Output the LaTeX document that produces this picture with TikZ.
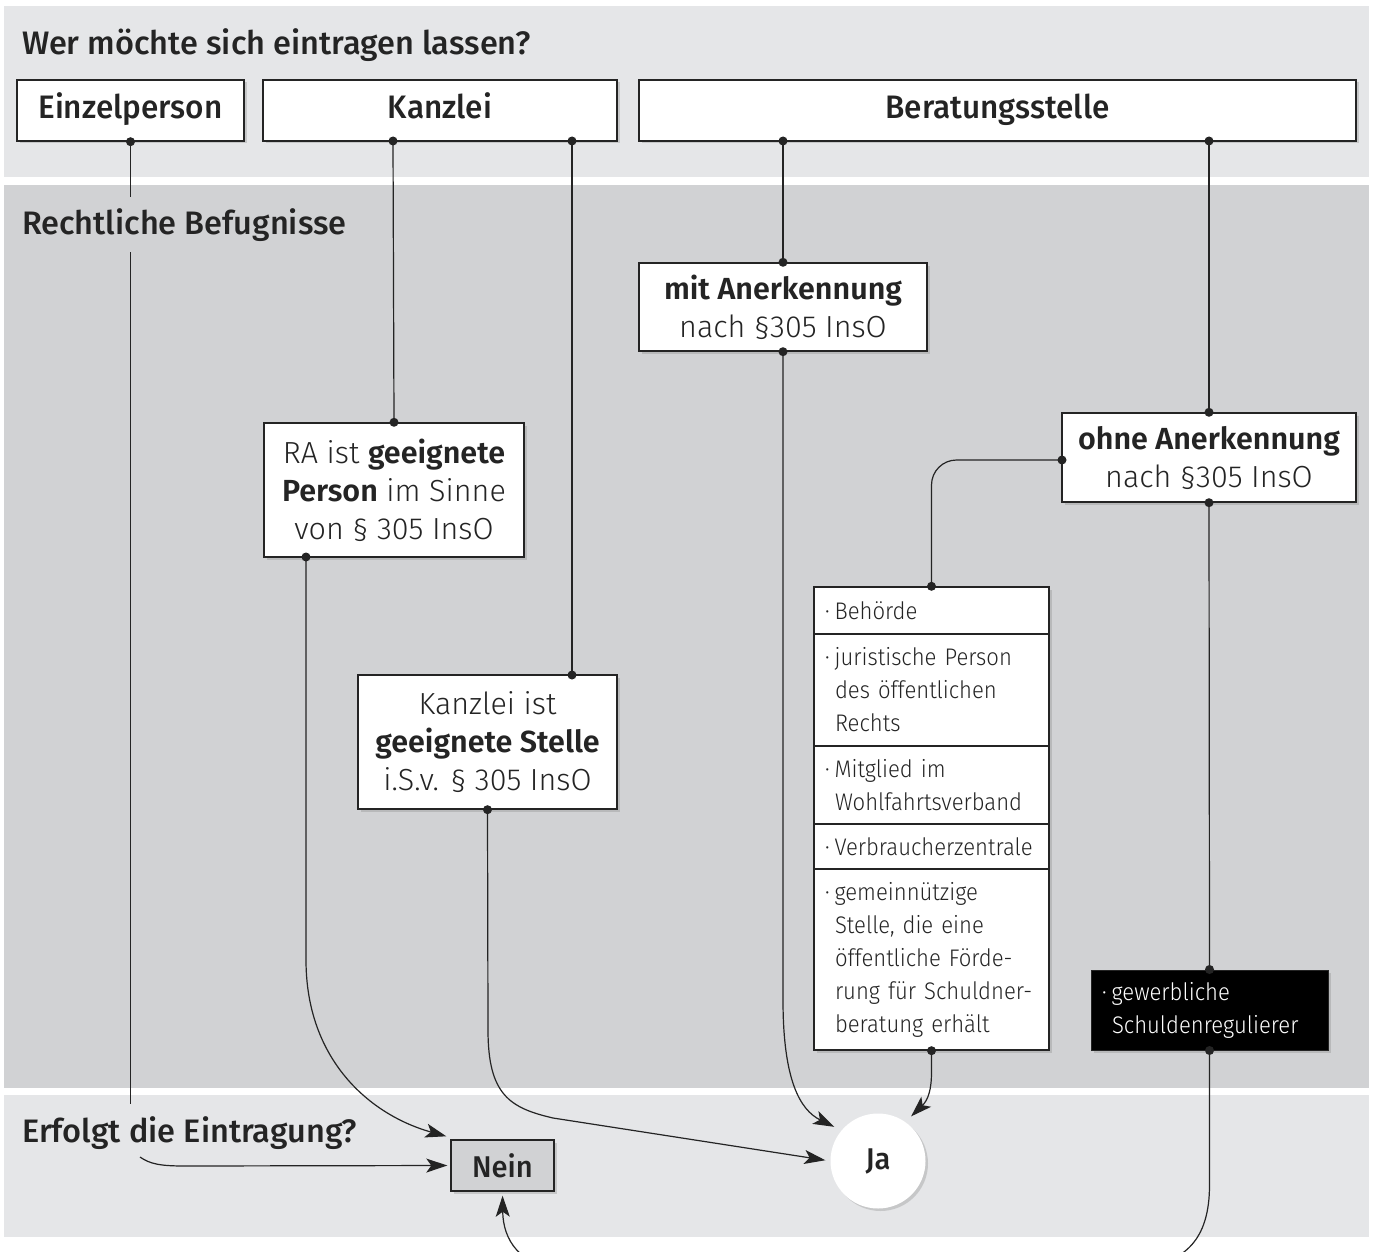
\documentclass[tikz,border=0pt]{standalone}
\usepackage{fontspec}
\setmainfont{Fira Sans}
\newfontfamily\hdfont{Fira Sans Medium}
\newfontfamily\lbfont{Fira Sans Medium}[FakeStretch=0.97]
\newfontfamily\bodyfont{Fira Sans Light}[BoldFont={Fira Sans SemiBold}]
\newfontfamily\lsfont{Fira Sans Light}[FakeStretch=0.92]
\usetikzlibrary{arrows.meta,shadows,calc}
\definecolor{bandlight}{HTML}{E5E6E8}
\definecolor{banddark}{HTML}{D1D2D4}
\definecolor{ink}{HTML}{242424}
\tikzset{
  x=1pt, y=-1pt,
  shad/.style={drop shadow={opacity=0.3, shadow xshift=2.5pt, shadow yshift=-2.5pt}},
  topbox/.style={draw=ink, line width=1.4pt, fill=white, shad, inner sep=0pt,
    text height=23pt, text depth=7pt,
    font=\lbfont\fontsize{32.5}{38}\selectfont, text=ink},
  bodybox/.style={draw=ink, line width=1.4pt, fill=white, shad, inner sep=0pt, align=center,
    font=\bodyfont\fontsize{30.5}{38}\selectfont, text=ink},
  lrow/.style={draw=ink, line width=1.4pt, fill=white, shad, inner xsep=11pt, inner ysep=0pt,
    minimum width=235pt, text width=213pt, align=left,
    font=\lsfont\fontsize{24}{33}\selectfont, text=ink},
  hdtext/.style={font=\hdfont\fontsize{32.5}{38}\selectfont, text=ink, inner sep=0pt},
  conn/.style={draw=ink, line width=1.2pt},
  arr/.style={conn, -{Stealth[length=21pt, width=14pt, inset=5pt]}},
  dotc/.style={fill=ink},
}
\begin{document}
\begin{tikzpicture}
\useasboundingbox (0,0) rectangle (1373,1252);
\clip (0,0) rectangle (1373,1252);
\fill[white] (0,0) rectangle (1373,1252);
% bands
\fill[bandlight] (4,6) rectangle (1369,177);
\fill[banddark] (4,185) rectangle (1369,1088);
\fill[bandlight] (4,1095) rectangle (1369,1237);

% headings
\node[hdtext, anchor=base west] (h1) at (22,55) {Wer möchte sich eintragen lassen?};
\node[hdtext, anchor=base west] (h2) at (22,234) {Rechtliche Befugnisse};
\node[hdtext, anchor=base west] (h3) at (22,1142) {Erfolgt die Eintragung?};

% top row
\node[topbox, minimum width=227pt, minimum height=61pt] (E) at (130.5,110.5) {Einzelperson};
\node[topbox, minimum width=354pt, minimum height=61pt] (K) at (440,110.5) {Kanzlei};
\node[topbox, minimum width=717pt, minimum height=61pt] (B) at (997.5,110.5) {Beratungsstelle};

% middle boxes
\node[bodybox, minimum width=260pt, minimum height=134pt] (RA) at (394,490)
  {RA ist \textbf{geeignete}\\\textbf{Person} im Sinne\\von § 305 InsO};
\node[bodybox, minimum width=259pt, minimum height=134pt] (KI) at (487.5,742)
  {Kanzlei ist\\\textbf{geeignete Stelle}\\i.S.v. § 305 InsO};
\node[bodybox, minimum width=288pt, minimum height=88pt] (MA) at (783,307)
  {\textbf{mit Anerkennung}\\nach §305 InsO};
\node[bodybox, minimum width=294pt, minimum height=89pt] (OA) at (1209,457.5)
  {\textbf{ohne Anerkennung}\\nach §305 InsO};

% list
\node[lrow, minimum height=47pt] (L1) at (931.5,610.5) {·\hspace{5pt}Behörde};
\node[lrow, minimum height=112pt] (L2) at (931.5,690) {·\hspace{5pt}juristische Person\\\hspace*{10pt}des öffentlichen\\\hspace*{10pt}Rechts};
\node[lrow, minimum height=78pt] (L3) at (931.5,785) {·\hspace{5pt}Mitglied im\\\hspace*{10pt}Wohlfahrtsverband};
\node[lrow, minimum height=45pt] (L4) at (931.5,846.5) {·\hspace{5pt}Verbraucherzentrale};
\node[lrow, minimum height=181pt] (L5) at (931.5,959.5) {·\hspace{5pt}gemeinnützige\\\hspace*{10pt}Stelle, die eine\\\hspace*{10pt}öffentliche Förde-\\\hspace*{10pt}rung für Schuldner-\\\hspace*{10pt}beratung erhält};

\node[draw=ink, line width=1pt, fill=black, shad, minimum width=237pt, minimum height=80pt,
  inner xsep=11pt, text width=215pt, align=left, text=white,
  font=\lsfont\fontsize{24}{33}\selectfont] (G) at (1209.5,1010)
  {·\hspace{5pt}gewerbliche\\\hspace*{10pt}Schuldenregulierer};

% results
\node[draw=ink, line width=1.4pt, fill=banddark, shad, minimum width=103pt, minimum height=51pt,
  inner sep=0pt, font=\lbfont\fontsize{30}{36}\selectfont, text=ink] (N) at (502.5,1165.5) {Nein};
\node[circle, fill=white, shad, minimum size=95pt, inner sep=0pt,
  font=\lbfont\fontsize{30}{36}\selectfont, text=ink] (J) at (878,1161) {Ja};

% helper coordinates
\coordinate (e1) at (130.5,197);
\coordinate (e2) at (130.5,252);
\coordinate (e3) at (130.5,1104);
\coordinate (e4) at (140,1157);
\coordinate (k1) at (393,141);
\coordinate (k2) at (572,141);
\coordinate (b1) at (783,141);
\coordinate (b2) at (1209,141);
\coordinate (ki1) at (572,675);
\coordinate (ra1) at (306,557);
\coordinate (oa1) at (1062,460);

% connectors
\draw[conn] (E.south) -- (e1);
\draw[conn] (e2) -- (e3);
\draw[arr] (e4) .. controls (150,1164) and (160,1166) .. (185,1166) -- ([xshift=-3pt]N.west);
\draw[conn] (k1) -- (RA.north);
\draw[arr] (ra1) -- (306,960) .. controls (306,1060) and (370,1115) .. ([shift={(-4pt,3pt)}]N.north west);
\draw[conn] (k2) -- (ki1);
\draw[arr, shorten >=5pt] (KI.south) -- (488,1030) .. controls (488,1095) and (510,1108) .. (553,1118) -- (J.west);
\draw[conn] (b1) -- (MA.north);
\draw[arr, shorten >=8pt] (MA.south) -- (783,1000) .. controls (783,1080) and (800,1110) .. (J.140);
\draw[conn] (b2) -- (OA.north);
\draw[conn, rounded corners=25pt] (oa1) -| (L1.north);
\draw[conn] (OA.south) -- (G.north);
\draw[arr, shorten >=8pt] (L5.south) -- (931.5,1072) .. controls (931.5,1090) and (928,1100) .. (J.55);
\draw[arr, shorten >=4pt] (G.south) -- (1209.5,1185) .. controls (1209.5,1240) and (1185,1262) .. (1140,1268)
   -- (560,1268) .. controls (520,1266) and (503,1240) .. (N.south);

% dots
\foreach \p in {E.south, k1, k2, b1, b2, RA.north, ra1, ki1, KI.south, MA.north, MA.south,
  OA.north, oa1, OA.south, L1.north, L5.south, G.north, G.south}
  \fill[dotc] (\p) circle (4.5pt);
\end{tikzpicture}
\end{document}
